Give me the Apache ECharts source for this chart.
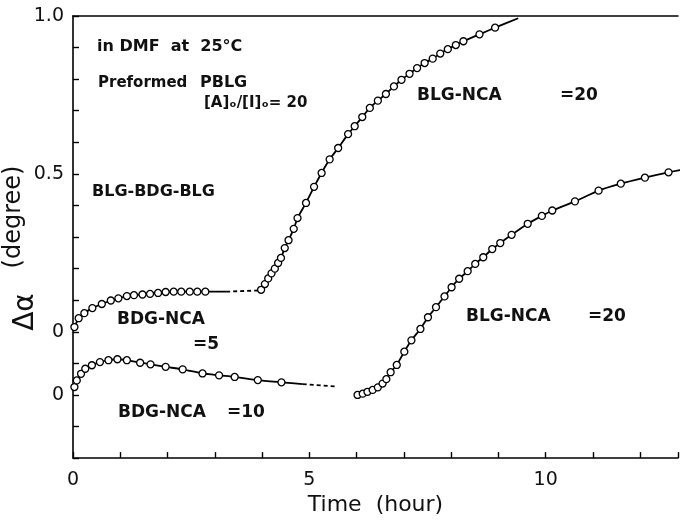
<!DOCTYPE html>
<html>
<head>
<meta charset="utf-8">
<script src="https://cdn.jsdelivr.net/npm/echarts@6/dist/echarts.min.js"></script>
<style>
  html, body { margin: 0; padding: 0; background: #ffffff; }
  #chart { width: 681px; height: 521px; }
</style>
</head>
<body>
<div id="chart"></div>
<script>
// upper curve (zero at 0): BDG-NCA =5, then BLG-NCA =20
const upperBdgTime = [0.03, 0.12, 0.24, 0.41, 0.61, 0.80, 0.96, 1.14, 1.29, 1.47, 1.63, 1.80, 1.96, 2.13, 2.29, 2.47, 2.63, 2.80]
const upperBdgValue = [0.015, 0.043, 0.059, 0.075, 0.088, 0.099, 0.106, 0.113, 0.116, 0.118, 0.120, 0.123, 0.126, 0.127, 0.127, 0.127, 0.127, 0.127]
const upperGapTime = [3.24, 3.96]
const upperGapValue = [0.127, 0.131]
const upperBlgTime = [3.98, 4.06, 4.13, 4.20, 4.27, 4.34, 4.40, 4.48, 4.56, 4.67, 4.75, 4.93, 5.10, 5.26, 5.43, 5.61, 5.82, 5.96, 6.12, 6.28, 6.45, 6.62, 6.79, 6.95, 7.12, 7.28, 7.44, 7.61, 7.77, 7.93, 8.10, 8.26, 8.60, 8.93]
const upperBlgValue = [0.133, 0.151, 0.169, 0.185, 0.200, 0.218, 0.234, 0.265, 0.290, 0.326, 0.360, 0.408, 0.459, 0.503, 0.546, 0.582, 0.626, 0.651, 0.680, 0.709, 0.732, 0.753, 0.777, 0.798, 0.817, 0.835, 0.851, 0.865, 0.881, 0.895, 0.908, 0.920, 0.942, 0.963]
const upperBlgEnd = [9.42, 0.993]

// lower curve (its own zero drawn at -0.2): BDG-NCA =10, then BLG-NCA =20
const lowerShift = -0.2
const lowerBdgTime = [0.03, 0.08, 0.17, 0.26, 0.40, 0.57, 0.75, 0.94, 1.14, 1.42, 1.64, 1.96, 2.32, 2.74, 3.09, 3.42, 3.91, 4.41]
const lowerBdgValue = [0.025, 0.046, 0.067, 0.083, 0.094, 0.104, 0.110, 0.113, 0.110, 0.102, 0.097, 0.089, 0.081, 0.068, 0.062, 0.057, 0.047, 0.040]
const lowerGapTime = [4.86, 5.56]
const lowerGapValue = [0.034, 0.027]
const lowerBlgTime = [6.02, 6.13, 6.23, 6.34, 6.45, 6.55, 6.63, 6.72, 6.85, 7.01, 7.16, 7.35, 7.51, 7.68, 7.86, 8.01, 8.17, 8.35, 8.51, 8.68, 8.87, 9.04, 9.28, 9.62, 9.92, 10.14, 10.62, 11.12, 11.59, 12.10, 12.60]
const lowerBlgValue = [0.000, 0.004, 0.010, 0.016, 0.024, 0.036, 0.050, 0.072, 0.095, 0.137, 0.173, 0.209, 0.246, 0.278, 0.312, 0.341, 0.368, 0.392, 0.415, 0.436, 0.462, 0.481, 0.507, 0.542, 0.567, 0.584, 0.613, 0.647, 0.669, 0.688, 0.705]
const lowerBlgEnd = [12.85, 0.712]

const xTickValues = [0, 5, 10]
const xTickLabels = ['0', '5', '10']
const yTickValues = [1.0, 0.5, 0, -0.2]
const yTickLabels = ['1.0', '0.5', '0', '0']

const FONT = '"DejaVu Sans", sans-serif'
const INK = '#111111'

function pts(times, values, shift) {
  return times.map((t, i) => [t, +(values[i] + shift).toFixed(4)])
}

function bare(point, shift) {
  return { value: [point[0], +(point[1] + shift).toFixed(4)], symbol: 'none' }
}

function findLabel(values, labels, v) {
  for (let i = 0; i < values.length; i++) {
    if (Math.abs(values[i] - v) < 1e-6) return labels[i]
  }
  return ''
}

const markerSeries = {
  type: 'line',
  symbol: 'circle',
  symbolSize: 7,
  showAllSymbol: true,
  smooth: 0.2,
  lineStyle: { color: '#000', width: 1.8 },
  itemStyle: { color: '#fff', borderColor: '#000', borderWidth: 1.3 },
  z: 3
}
const gapSeries = {
  type: 'line',
  symbol: 'none',
  lineStyle: { color: '#000', width: 1.8, type: [4, 3] },
  z: 2
}

function note(text, x, y, size) {
  return {
    type: 'text',
    x: x,
    y: y,
    style: {
      text: text,
      font: 'bold ' + (size || 16) + 'px ' + FONT,
      fill: INK,
      verticalAlign: 'middle'
    }
  }
}

const option = {
  animation: false,
  backgroundColor: '#ffffff',
  grid: { left: 73, right: 0, top: 16, bottom: 61 },
  xAxis: [
    {
      type: 'value',
      min: 0,
      max: 12.8,
      interval: 1,
      name: 'Time  (hour)',
      nameLocation: 'middle',
      nameGap: 29,
      nameTextStyle: { fontSize: 22, fontFamily: FONT, color: INK },
      axisLine: { show: true, onZero: false, lineStyle: { color: '#000', width: 1.6 } },
      axisTick: { show: true, inside: true, length: 6, lineStyle: { color: '#000', width: 1.4 } },
      axisLabel: {
        margin: 12,
        fontSize: 19,
        fontFamily: FONT,
        color: INK,
        formatter: v => findLabel(xTickValues, xTickLabels, v)
      },
      splitLine: { show: false }
    },
    {
      type: 'value',
      position: 'top',
      min: 0,
      max: 12.8,
      axisLine: { show: true, onZero: false, lineStyle: { color: '#000', width: 1.6 } },
      axisTick: { show: false },
      axisLabel: { show: false },
      splitLine: { show: false }
    }
  ],
  yAxis: {
    type: 'value',
    min: -0.4,
    max: 1.0,
    interval: 0.1,
    axisLine: { show: true, onZero: false, lineStyle: { color: '#000', width: 1.6 } },
    axisTick: { show: true, inside: true, length: 6, lineStyle: { color: '#000', width: 1.4 } },
    axisLabel: {
      margin: 9,
      fontSize: 19,
      fontFamily: FONT,
      color: INK,
      padding: [5, 0, 0, 0],
      formatter: v => findLabel(yTickValues, yTickLabels, v)
    },
    splitLine: { show: false }
  },
  graphic: [
    note('in DMF  at  25°C', 97, 47, 16),
    note('Preformed', 98, 83, 15),
    note('PBLG', 200, 83, 16),
    note('[A]ₒ/[I]ₒ= 20', 204, 103, 15),
    note('BLG-BDG-BLG', 92, 192),
    note('BLG-NCA', 417, 96, 17),
    note('=20', 560, 96, 17),
    note('BDG-NCA', 117, 320, 17),
    note('=5', 193, 345, 17),
    note('BDG-NCA', 118, 413, 17),
    note('=10', 227, 413, 17),
    note('BLG-NCA', 466, 317, 17),
    note('=20', 588, 317, 17),
    {
      type: 'text',
      x: 14,
      y: 217,
      rotation: Math.PI / 2,
      style: { text: '(degree)', font: '24px ' + FONT, fill: INK, align: 'center', verticalAlign: 'middle' }
    },
    {
      type: 'text',
      x: 26,
      y: 312,
      rotation: Math.PI / 2,
      style: { text: 'Δα', font: '28px ' + FONT, fill: INK, align: 'center', verticalAlign: 'middle' }
    }
  ],
  series: [
    Object.assign({}, markerSeries, {
      name: 'BDG-NCA =5',
      data: pts(upperBdgTime, upperBdgValue, 0).concat([bare([upperGapTime[0], upperGapValue[0]], 0)])
    }),
    Object.assign({}, gapSeries, { data: pts(upperGapTime, upperGapValue, 0) }),
    Object.assign({}, markerSeries, {
      name: 'BLG-NCA =20 (upper)',
      data: pts(upperBlgTime, upperBlgValue, 0).concat([bare(upperBlgEnd, 0)])
    }),
    Object.assign({}, markerSeries, {
      name: 'BDG-NCA =10',
      data: pts(lowerBdgTime, lowerBdgValue, lowerShift).concat([bare([lowerGapTime[0], lowerGapValue[0]], lowerShift)])
    }),
    Object.assign({}, gapSeries, { data: pts(lowerGapTime, lowerGapValue, lowerShift) }),
    Object.assign({}, markerSeries, {
      name: 'BLG-NCA =20 (lower)',
      data: pts(lowerBlgTime, lowerBlgValue, lowerShift).concat([bare(lowerBlgEnd, lowerShift)])
    })
  ]
}

const chart = echarts.init(document.getElementById('chart'))
chart.setOption(option)
window.addEventListener('resize', () => {
  chart.resize()
})
</script>
</body>
</html>
